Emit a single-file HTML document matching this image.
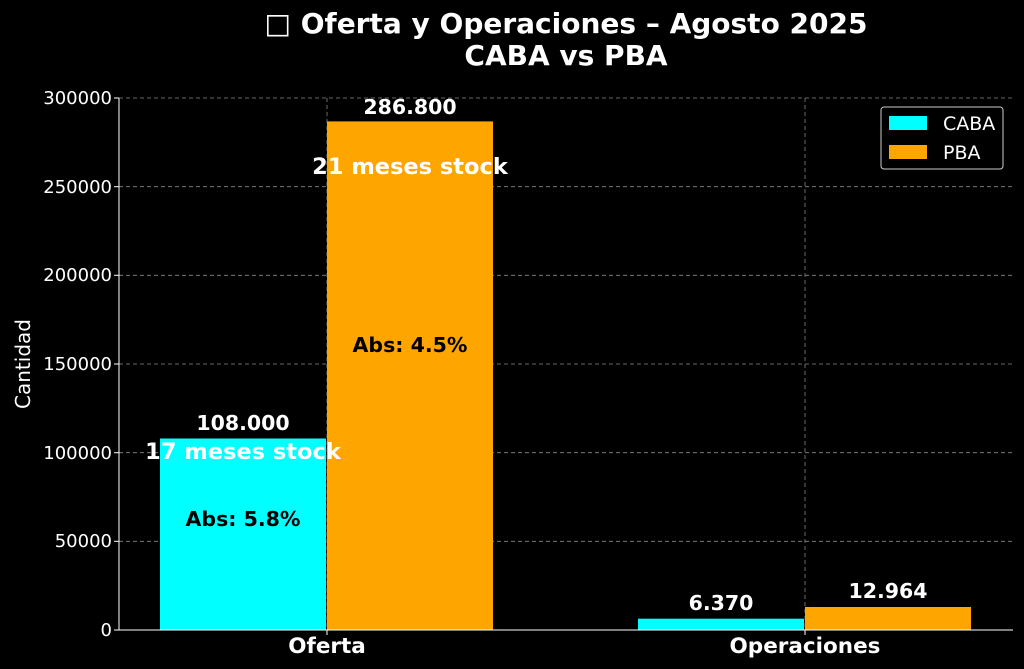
<!DOCTYPE html>
<html><head><meta charset="utf-8"><style>
html,body{margin:0;padding:0;background:#000;}
svg{display:block;font-family:"DejaVu Sans","Liberation Sans",sans-serif;}
</style></head><body>
<svg width="1024" height="669" viewBox="0 0 1024 669" xmlns="http://www.w3.org/2000/svg">
<rect width="1024" height="669" fill="#000"/>
<text x="566" y="33" fill="#fff" font-size="28" font-weight="bold" text-anchor="middle">□ Oferta y Operaciones – Agosto 2025</text>
<text x="566" y="65" fill="#fff" font-size="28" font-weight="bold" text-anchor="middle">CABA vs PBA</text>
<g stroke="#888" stroke-dasharray="4,3" stroke-width="0.8">
<line x1="119" x2="1013" y1="98" y2="98"/>
<line x1="119" x2="1013" y1="186.7" y2="186.7"/>
<line x1="119" x2="1013" y1="275.3" y2="275.3"/>
<line x1="119" x2="1013" y1="364" y2="364"/>
<line x1="119" x2="1013" y1="452.7" y2="452.7"/>
<line x1="119" x2="1013" y1="541.3" y2="541.3"/>
<line x1="327" x2="327" y1="98" y2="630"/>
<line x1="805" x2="805" y1="98" y2="630"/>
</g>
<rect x="160" y="438.5" width="166" height="191.5" fill="#00ffff"/>
<rect x="327" y="121.4" width="166" height="508.6" fill="#ffa500"/>
<rect x="638" y="618.7" width="166" height="11.3" fill="#00ffff"/>
<rect x="805" y="607" width="166" height="23" fill="#ffa500"/>
<line x1="119" x2="119" y1="98" y2="630" stroke="#fff" stroke-width="1"/>
<line x1="119" x2="1013" y1="630" y2="630" stroke="#fff" stroke-width="1"/>
<g fill="#fff" font-size="18" text-anchor="end">
<text x="112" y="636">0</text>
<text x="112" y="547">50000</text>
<text x="112" y="459">100000</text>
<text x="112" y="370">150000</text>
<text x="112" y="281">200000</text>
<text x="112" y="193">250000</text>
<text x="112" y="104">300000</text>
</g>
<g stroke="#fff"><line x1="114" x2="119" y1="630" y2="630"/><line x1="114" x2="119" y1="541.3" y2="541.3"/><line x1="114" x2="119" y1="452.7" y2="452.7"/><line x1="114" x2="119" y1="364" y2="364"/><line x1="114" x2="119" y1="275.3" y2="275.3"/><line x1="114" x2="119" y1="186.7" y2="186.7"/><line x1="114" x2="119" y1="98" y2="98"/><line x1="327" x2="327" y1="630" y2="635"/><line x1="805" x2="805" y1="630" y2="635"/></g>
<text transform="translate(30,364) rotate(-90)" fill="#fff" font-size="20" text-anchor="middle">Cantidad</text>
<text x="327" y="653" fill="#fff" font-size="21.5" font-weight="bold" text-anchor="middle">Oferta</text>
<text x="805" y="653" fill="#fff" font-size="21.5" font-weight="bold" text-anchor="middle">Operaciones</text>
<g font-weight="bold" text-anchor="middle">
<text x="243" y="430" fill="#fff" font-size="20.5">108.000</text>
<text x="410" y="114" fill="#fff" font-size="20.5">286.800</text>
<text x="721" y="610" fill="#fff" font-size="20.5">6.370</text>
<text x="888" y="598" fill="#fff" font-size="20.5">12.964</text>
<text x="243" y="459" fill="#fff" font-size="22.5">17 meses stock</text>
<text x="410" y="174" fill="#fff" font-size="22.5">21 meses stock</text>
<text x="243" y="526" fill="#000" font-size="20.5">Abs: 5.8%</text>
<text x="410" y="352" fill="#000" font-size="20.5">Abs: 4.5%</text>
</g>
<rect x="881" y="107" width="122" height="62" rx="3" fill="#000" stroke="#ccc" stroke-width="1"/>
<rect x="889" y="116" width="38" height="14" fill="#00ffff"/>
<rect x="889" y="145" width="38" height="14" fill="#ffa500"/>
<text x="943" y="130" fill="#fff" font-size="19">CABA</text>
<text x="943" y="159" fill="#fff" font-size="19">PBA</text>
</svg>
</body></html>
